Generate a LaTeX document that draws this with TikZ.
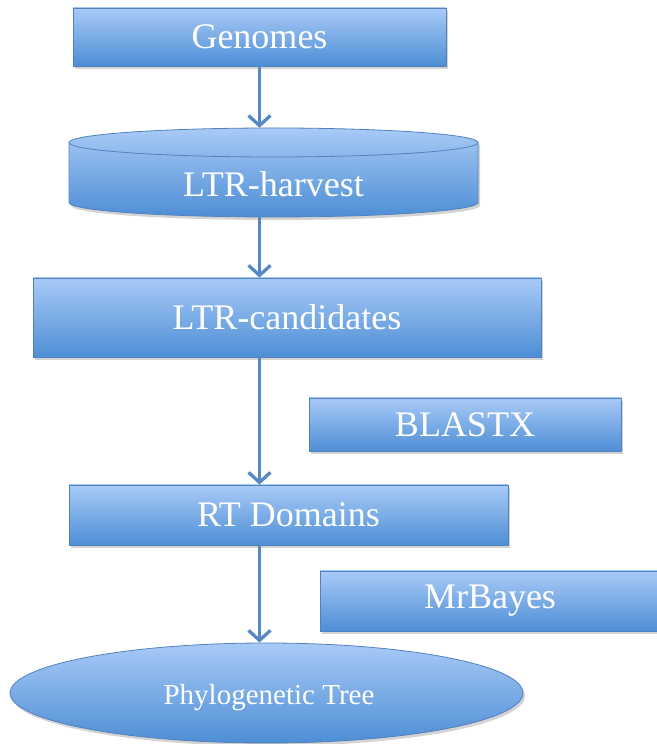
\documentclass[tikz,border=0pt]{standalone}
\usepackage{fontspec}
\setmainfont{Liberation Serif}
\usetikzlibrary{arrows.meta,shadows,shapes.geometric,calc}
\definecolor{boxtop}{RGB}{168,202,247}
\definecolor{boxbot}{RGB}{78,142,213}
\definecolor{boxline}{RGB}{82,130,190}
\definecolor{arrowc}{RGB}{86,136,196}
\tikzset{
  fillbox/.style={top color=boxtop, bottom color=boxbot, draw=boxline, line width=0.8pt,
    drop shadow={shadow xshift=2pt, shadow yshift=-3pt, opacity=0.35, fill=gray}},
  stepbox/.style={fillbox, rectangle, inner sep=0pt, text=white, font=\fontsize{36}{40}\selectfont},
  flow/.style={draw=arrowc, line width=3.3pt, -{Straight Barb[length=10pt, width=22pt, line width=3.3pt]}},
}
\begin{document}
\begin{tikzpicture}[x=1pt,y=1pt]
\useasboundingbox (0,0) rectangle (656,744);
% Genomes
\node[stepbox, minimum width=373pt, minimum height=58pt] (gen) at (259.5,707) {Genomes};
% cylinder
\shade[top color=boxtop, bottom color=boxbot, drop shadow={shadow xshift=2pt, shadow yshift=-3pt, opacity=0.35, fill=gray}]
  (69,601.5) -- (69,541.5) arc (180:360:204.5pt and 14.5pt) -- (478,601.5) arc (0:180:204.5pt and 14.5pt) -- cycle;
\draw[boxline, line width=0.8pt]
  (69,601.5) -- (69,541.5) arc (180:360:204.5pt and 14.5pt) -- (478,601.5) arc (0:180:204.5pt and 14.5pt) -- cycle;
\draw[boxline, line width=0.8pt] (69,601.5) arc (180:360:204.5pt and 14.5pt);
\node[minimum width=409pt, minimum height=89pt, inner sep=0pt] (cyl) at (273.5,571.5) {};
\node[text=white, font=\fontsize{36}{40}\selectfont] (cyltext) at (273.5,560) {LTR-harvest};
% LTR-candidates
\node[stepbox, minimum width=508pt, minimum height=79pt] (cand) at (287,426.5) {LTR-candidates};
% BLASTX
\node[stepbox, minimum width=312pt, minimum height=53pt] (blast) at (465,319.5) {BLASTX};
% RT Domains
\node[stepbox, minimum width=439pt, minimum height=60pt] (rt) at (288.5,229) {RT Domains};
% MrBayes
\node[stepbox, minimum width=340pt, minimum height=60pt] (mrb) at (490,143) {MrBayes};
% Phylogenetic tree
\node[fillbox, ellipse, minimum width=513pt, minimum height=100pt, inner sep=0pt] (tree) at (266.5,51) {};
\node[text=white, font=\fontsize{29}{34}\selectfont] (treetext) at (269,46) {Phylogenetic Tree};
% connectors
\draw[flow] (gen.south) -- (gen.south |- cyl.north);
\draw[flow] (gen.south |- cyl.south) -- (gen.south |- cand.north);
\draw[flow] (gen.south |- cand.south) -- (gen.south |- rt.north);
\draw[flow] (gen.south |- rt.south) -- (gen.south |- tree.north);
\end{tikzpicture}
\end{document}
